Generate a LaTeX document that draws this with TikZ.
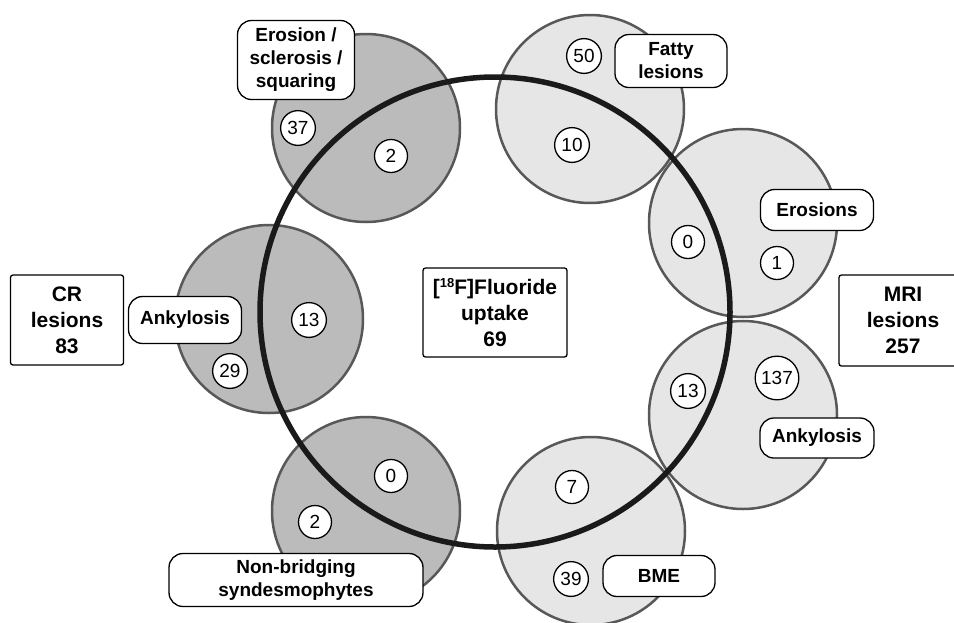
\documentclass[tikz,border=0pt]{standalone}
\usepackage{fontspec}
\setmainfont{Liberation Sans}
\definecolor{crfill}{HTML}{BBBBBB}
\definecolor{mrifill}{HTML}{E6E6E6}
\definecolor{ringgray}{HTML}{585858}
\definecolor{ringblack}{HTML}{1A1A1A}
\begin{document}
\begin{tikzpicture}[x=1pt,y=-1pt,
 crcirc/.style={circle, fill=crfill, draw=ringgray, line width=2.5pt, minimum size=188pt, inner sep=0},
 mricirc/.style={circle, fill=mrifill, draw=ringgray, line width=2.5pt, minimum size=188pt, inner sep=0},
 num/.style={circle, draw=black, line width=1.3pt, fill=white, minimum size=33pt, inner sep=3.5pt, font=\fontsize{19}{19}\selectfont},
 lbl/.style={draw=black, line width=1.3pt, fill=white, rounded corners=14pt, inner sep=0, align=center, font=\fontsize{19}{23}\selectfont\bfseries},
 bigbox/.style={draw=black, line width=1.3pt, fill=white, rounded corners=2.5pt, inner sep=0, align=center, font=\fontsize{21}{26}\selectfont\bfseries}]
\useasboundingbox (0,0) rectangle (954,622);
\fill[white] (0,0) rectangle (954,622);
% CR circles
\node[crcirc] (cEro) at (366,128) {};
\node[crcirc] (cAnk) at (269,319) {};
\node[crcirc] (cNB) at (366,511) {};
% MRI circles
\node[mricirc] (mFat) at (590,109) {};
\node[mricirc] (mEro) at (743,223) {};
\node[mricirc] (mAnk) at (743,415) {};
\node[mricirc] (mBME) at (591,531) {};
% fluoride ring
\node[circle, draw=ringblack, line width=5.5pt, minimum size=470pt, inner sep=0] (ring) at (495,312) {};
% numbers
\node[num] (n37) at (298,128) {37};
\node[num] (n2a) at (391,156) {2};
\node[num] (n13a) at (309,320) {13};
\node[num] (n29) at (230,371) {29};
\node[num] (n0a) at (391,476) {0};
\node[num] (n2b) at (315,522) {2};
\node[num] (n50) at (584,56) {50};
\node[num] (n10) at (572,145) {10};
\node[num] (n0b) at (688,242) {0};
\node[num] (n1) at (777,263) {1};
\node[num] (n13b) at (688,391) {13};
\node[num] (n137) at (777,378) {137};
\node[num] (n7) at (572,487) {7};
\node[num] (n39) at (571,579) {39};
% labels
\node[lbl, minimum width=117pt, minimum height=79pt] (lEro) at (296,60) {Erosion /\\sclerosis /\\squaring};
\node[lbl, minimum width=113pt, minimum height=47pt] (lAnkCR) at (185,320) {Ankylosis};
\node[lbl, minimum width=254pt, minimum height=53pt] (lNB) at (296,580) {Non-bridging\\syndesmophytes};
\node[lbl, minimum width=112pt, minimum height=53pt] (lFat) at (671,61) {Fatty\\lesions};
\node[lbl, minimum width=113pt, minimum height=41pt] (lEros) at (817,210) {Erosions};
\node[lbl, minimum width=114pt, minimum height=40pt] (lAnkMRI) at (817,438) {Ankylosis};
\node[lbl, minimum width=112pt, minimum height=41pt] (lBME) at (659,576) {BME};
% boxes
\node[bigbox, minimum width=113pt, minimum height=90pt] (bCR) at (67,320) {CR\\lesions\\83};
\node[bigbox, minimum width=128pt, minimum height=91pt] (bMRI) at (903,320.5) {MRI\\lesions\\257};
\node[bigbox, minimum width=144pt, minimum height=89pt] (bF) at (495,312.5) {[\raisebox{0.55ex}{\fontsize{13}{13}\selectfont 18}F]Fluoride\\uptake\\69};
\end{tikzpicture}
\end{document}
